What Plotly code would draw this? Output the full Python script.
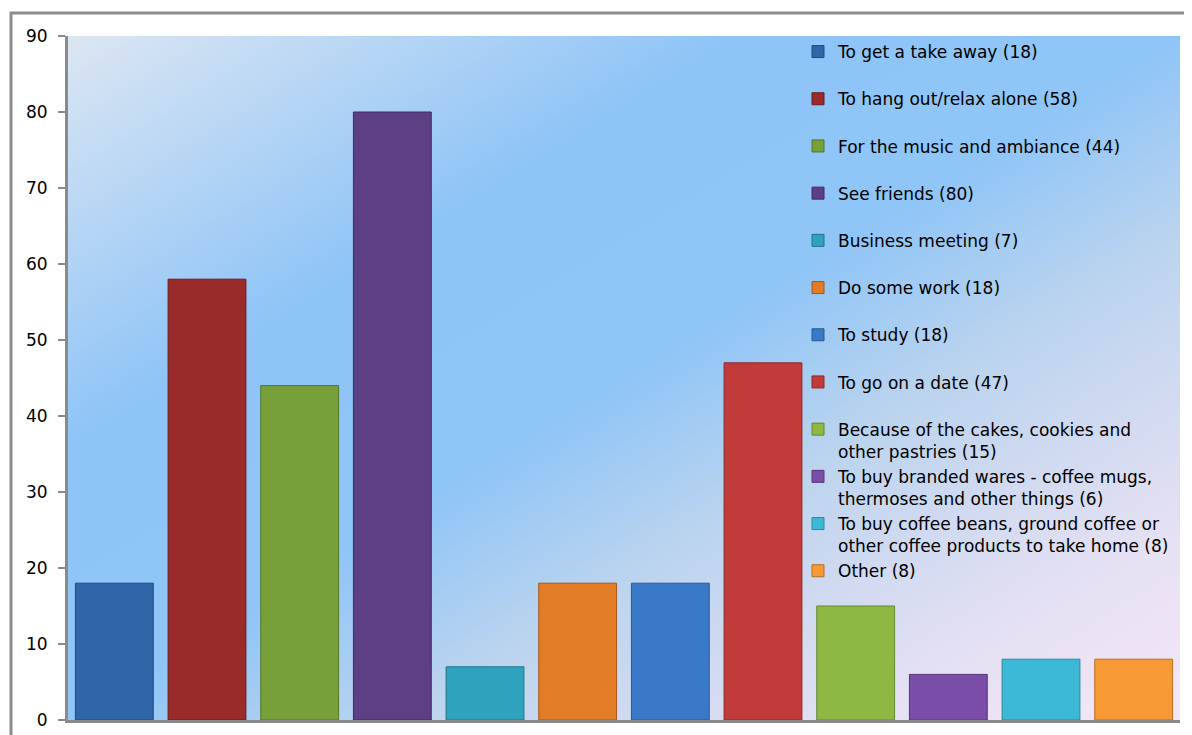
import plotly.graph_objects as go

# ---- data ----
categories = [
    "To get a take away (18)",
    "To hang out/relax alone (58)",
    "For the music and ambiance (44)",
    "See friends (80)",
    "Business meeting (7)",
    "Do some work (18)",
    "To study (18)",
    "To go on a date (47)",
    "Because of the cakes, cookies and<br>other pastries (15)",
    "To buy branded wares - coffee mugs,<br>thermoses and other things (6)",
    "To buy coffee beans, ground coffee or<br>other coffee products to take home (8)",
    "Other (8)",
]
values = [18, 58, 44, 80, 7, 18, 18, 47, 15, 6, 8, 8]
bar_colors = [
    "#2f66a8", "#9a2b2b", "#77a03a", "#5d3f86", "#2fa3bd", "#e37c26",
    "#3a79c7", "#c23b3b", "#8cb843", "#7a4ea8", "#3db8d6", "#f79a35",
]
line_colors = [
    "#1f4a7d", "#6e1b1b", "#557527", "#402a60", "#1f7487", "#a8561a",
    "#285a96", "#8e2828", "#66882e", "#56357a", "#2a8aa1", "#b86e22",
]
y_ticks = [0, 10, 20, 30, 40, 50, 60, 70, 80, 90]

# page body has an 8px margin, so the figure is sized / placed accordingly
W, H = 1184, 727
ML, MR, MT, MB = 60, 12, 28, 15
PW, PH = W - ML - MR, H - MT - MB
FONT = "DejaVu Sans, Open Sans, sans-serif"

fig = go.Figure()

# diagonal background gradient for the plot area
fig.add_trace(go.Heatmap(
    x=[-0.5, 11.5], y=[0, 90],
    z=[[0.5, 1.0], [0.0, 0.5]],
    zmin=0, zmax=1, zsmooth="best", showscale=False, hoverinfo="skip",
    colorscale=[[0, "#dce6f2"], [0.3, "#8ec4f7"], [0.5, "#8fc5f7"],
                [0.65, "#bcd4ee"], [0.85, "#e4e0f3"], [1, "#f6e6f6"]],
))

for i, (name, v) in enumerate(zip(categories, values)):
    label = name if "<br>" in name else name + "<br> "
    fig.add_trace(go.Bar(
        x=[i], y=[v], name=label, width=0.84,
        marker=dict(color=bar_colors[i], line=dict(color=line_colors[i], width=1)),
    ))


def px_x(p):
    return (p - ML) / PW


def px_y(p):
    return 1 - (p - MT) / PH


fig.update_layout(
    width=W, height=H,
    margin=dict(l=ML, r=MR, t=MT, b=MB, autoexpand=False),
    paper_bgcolor="white", plot_bgcolor="#a9d0f5",
    barmode="relative",
    font=dict(family=FONT, color="#000000"),
    showlegend=True,
    legend=dict(
        x=px_x(790), y=px_y(26), xanchor="left", yanchor="top",
        bgcolor="rgba(0,0,0,0)", borderwidth=0,
        font=dict(family=FONT, size=17, color="#000000"),
        valign="top", traceorder="normal", maxheight=700,
    ),
    xaxis=dict(
        range=[-0.5, 11.5], showticklabels=False, showgrid=False, zeroline=False,
        showline=True, linecolor="#8a8a8a", linewidth=3, ticks="", automargin=False,
    ),
    yaxis=dict(
        range=[0, 90], tickvals=y_ticks, showgrid=False, zeroline=False,
        showline=True, linecolor="#8a8a8a", linewidth=3, automargin=False,
        ticks="outside", ticklen=7, tickcolor="#8a8a8a", tickwidth=2,
        tickfont=dict(family=FONT, size=17, color="#000000"), ticklabelstandoff=7,
    ),
    shapes=[dict(
        type="path", xref="paper", yref="paper",
        path="M %f,%f L %f,%f L %f,%f" % (px_x(3), px_y(740), px_x(3), px_y(5), px_x(1200), px_y(5)),
        line=dict(color="#8c8c8c", width=3), layer="above",
    )],
)

fig.write_html("out.html")
